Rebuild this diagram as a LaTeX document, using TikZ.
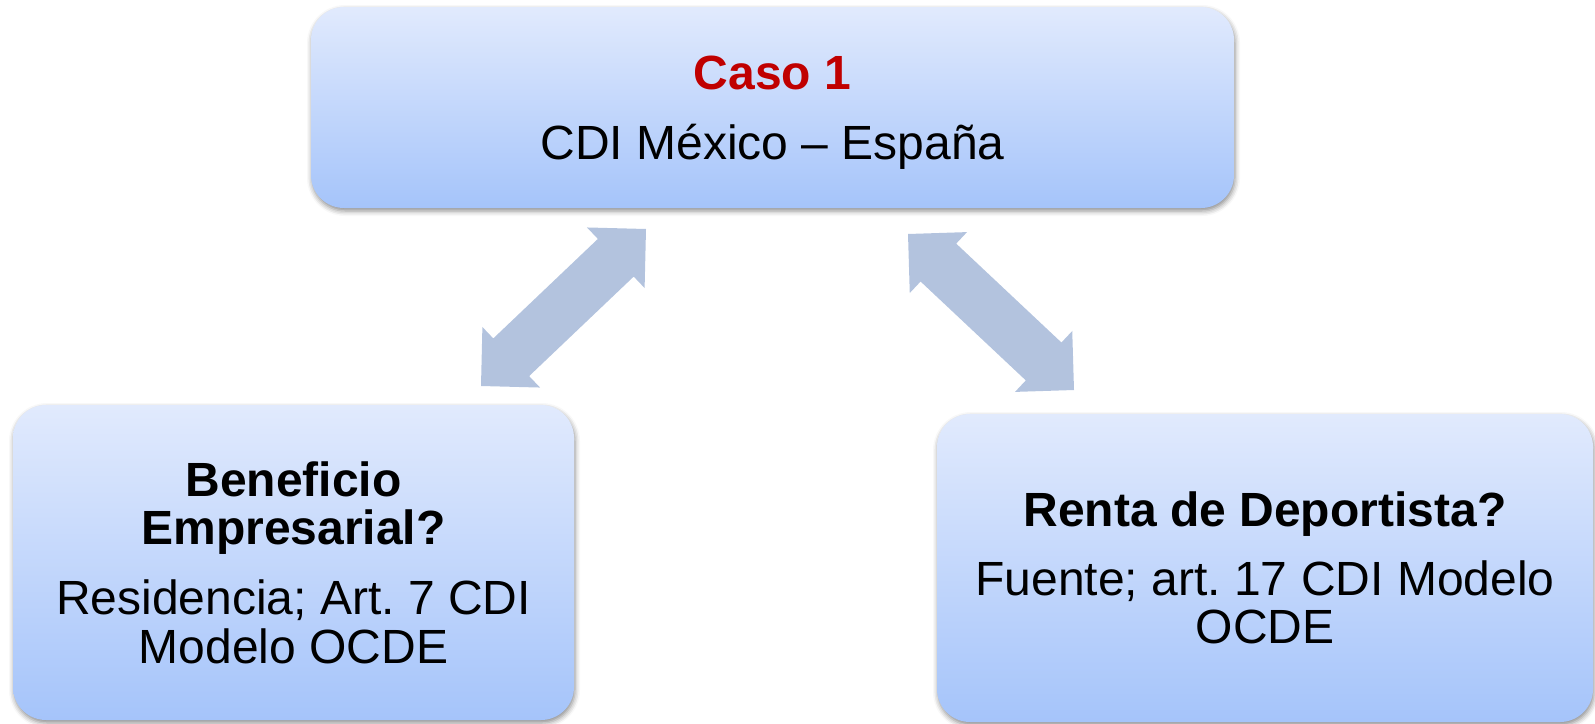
\documentclass[tikz,border=0pt]{standalone}
\usepackage{fontspec}
\setmainfont{Liberation Sans}
\usetikzlibrary{calc,shadows.blur}
\definecolor{boxtop}{RGB}{225,234,253}
\definecolor{boxbot}{RGB}{165,196,250}
\definecolor{arrowc}{RGB}{179,195,222}
\definecolor{casored}{RGB}{192,0,0}
\frenchspacing
\tikzset{
  box/.style={rectangle, rounded corners=16.5pt, top color=boxtop, bottom color=boxbot,
    draw=none, inner sep=0pt,
    blur shadow={shadow xshift=0.5pt, shadow yshift=-1.5pt, shadow blur radius=2.5pt, shadow opacity=45}},
  txt/.style={inner sep=0pt, anchor=base, font=\fontsize{24}{28}\selectfont},
  hd/.style={inner sep=0pt, anchor=base, font=\fontsize{24}{28}\selectfont\bfseries},
}
\newcommand\blockarrow[2]{%
  \path coordinate (#1h) at ($(#1)!20.85pt!(#2)$)
        coordinate (#2h) at ($(#2)!20.85pt!(#1)$);
  \fill[arrowc] (#1) -- ($(#1h)!20.9pt!90:(#2)$) -- ($(#1h)!13pt!90:(#2)$)
    -- ($(#2h)!13pt!90:(#2)$) -- ($(#2h)!20.9pt!90:(#2)$) -- (#2)
    -- ($(#2h)!20.9pt!-90:(#2)$) -- ($(#2h)!13pt!-90:(#2)$)
    -- ($(#1h)!13pt!-90:(#2)$) -- ($(#1h)!20.9pt!-90:(#2)$) -- cycle;}
\begin{document}
\begin{tikzpicture}[x=0.5pt,y=-0.5pt]
\useasboundingbox (0,0) rectangle (1595,723);
% boxes
\node[box, minimum width=461.5pt, minimum height=100.5pt] (top) at (772.5,107.5) {};
\node[box, minimum width=280.5pt, minimum height=157.5pt] (left) at (293.5,562.5) {};
\node[box, minimum width=328pt, minimum height=154pt] (right) at (1265,568) {};
% texts
\node[hd, text=casored] (t1) at (772.5,89.5) {Caso 1};
\node[txt] (t2) at (772.5,159.7) {CDI México – España};
\node[hd] (l1) at (293.5,496) {Beneficio};
\node[hd] (l2) at (293.5,544) {Empresarial?};
\node[txt] (l3) at (293.5,614) {Residencia; Art. 7 CDI};
\node[txt] (l4) at (293.5,663) {Modelo OCDE};
\node[hd] (r1) at (1265,526) {Renta de Deportista?};
\node[txt] (r2) at (1265,595) {Fuente; art. 17 CDI Modelo};
\node[txt] (r3) at (1265,643) {OCDE};
% arrows
\coordinate (aa) at (481,386);
\coordinate (ab) at (646,229);
\coordinate (ba) at (908,234);
\coordinate (bb) at (1074,390);
\blockarrow{aa}{ab}
\blockarrow{ba}{bb}
\end{tikzpicture}
\end{document}
